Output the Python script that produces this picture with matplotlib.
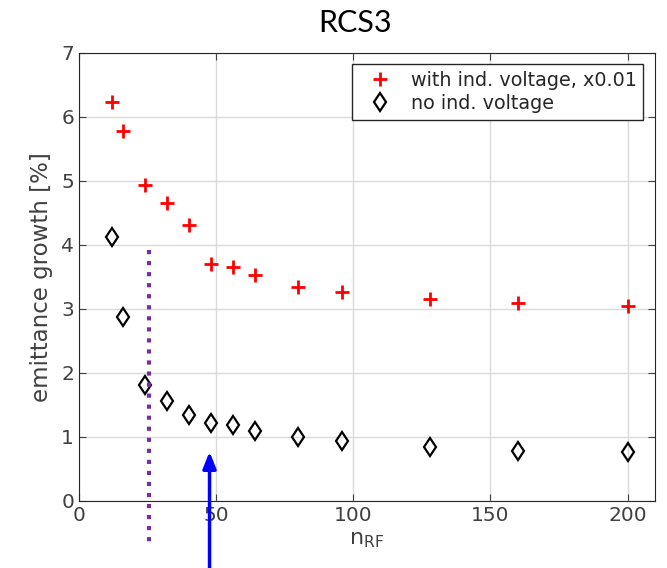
import matplotlib
matplotlib.use("Agg")
import matplotlib.pyplot as plt
import numpy as np

# data
n_rf = [12, 16, 24, 32, 40, 48, 56, 64, 80, 96, 128, 160, 200]
with_ind = [6.23, 5.78, 4.93, 4.65, 4.32, 3.71, 3.66, 3.53, 3.34, 3.26, 3.16, 3.09, 3.05]
no_ind = [4.13, 2.88, 1.82, 1.57, 1.34, 1.22, 1.18, 1.09, 1.00, 0.93, 0.85, 0.78, 0.76]

vline_x = 25.7
vline_y = [3.92, -0.64]
arrow_x = 47.6
arrow_y = [-1.05, 0.77]

txt = '#404040'

fig = plt.figure(figsize=(6.67, 5.68), dpi=100)
ax = fig.add_axes([0.1184, 0.118, 0.8636, 0.7887])

ax.plot(n_rf, with_ind, '+', color='red', ms=10, mew=2, ls='none',
        label='with ind. voltage, x0.01')
ax.plot(n_rf, no_ind, 'd', color='black', mfc='none', ms=9.5, mew=1.6, ls='none',
        label='no ind. voltage')

ax.plot([vline_x, vline_x], vline_y, ls=':', color='#7030a0', lw=3, clip_on=False)
ax.annotate('', xy=(arrow_x, arrow_y[1]), xytext=(arrow_x, arrow_y[0]),
            xycoords='data', annotation_clip=False,
            arrowprops=dict(arrowstyle='-|>,head_width=0.4,head_length=1.0',
                            color='blue', lw=2.5, shrinkA=0, shrinkB=0))

ax.set_xlim(0, 210)
ax.set_ylim(0, 7)
ax.set_xticks([0, 50, 100, 150, 200])
ax.set_yticks(range(0, 8))
ax.grid(True, color='#dadada', lw=1)
ax.tick_params(direction='in', top=True, right=True, labelsize=14.5,
               colors=txt, length=5)
for s in ax.spines.values():
    s.set_color('#262626')

ax.set_xlabel(r'$\mathregular{n_{RF}}$', fontsize=16, color=txt, labelpad=4)
ax.set_ylabel('emittance growth [%]', fontsize=16.5, color=txt, labelpad=6)
fig.text(0.533, 0.96, 'RCS3', ha='center', va='center', fontsize=22,
         family='Lato', color='black')

leg = ax.legend(loc='upper right', fontsize=13.8, fancybox=False,
                edgecolor='#262626', framealpha=1, borderaxespad=0.6,
                handletextpad=0.5, labelspacing=0.2, handlelength=2.2,
                borderpad=0.35)
for t in leg.get_texts():
    t.set_color('#262626')

fig.savefig('out.png', dpi=100)
